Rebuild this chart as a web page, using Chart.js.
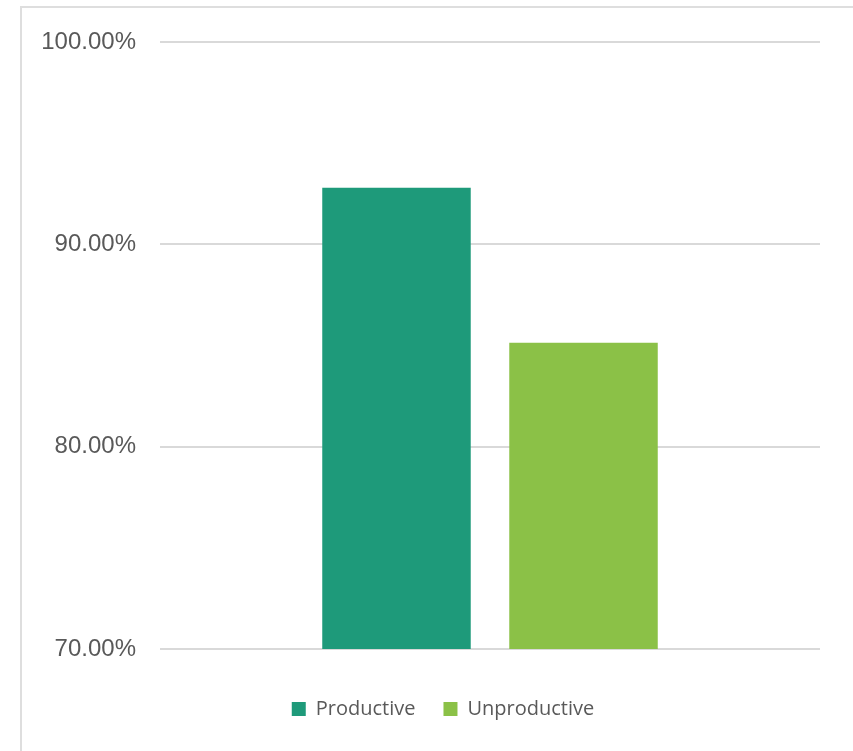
<!DOCTYPE html>
<html>
<head>
<meta charset="utf-8">
<script src="https://cdn.jsdelivr.net/npm/chart.js@4.4.1/dist/chart.umd.min.js"></script>
<style>
  html, body { margin: 0; padding: 0; background: #ffffff; }
  #wrap { position: relative; width: 853px; height: 751px; overflow: hidden; }
  #frame { position: absolute; left: 20px; top: 6px; width: 900px; height: 900px; border: 2px solid #dedede; box-sizing: border-box; }
  #c { position: absolute; left: 0; top: 0; }
</style>
</head>
<body>
<div id="wrap">
  <div id="frame"></div>
  <canvas id="c" width="853" height="751"></canvas>
</div>
<script>
const categories = [''];
const seriesNames = ['Productive', 'Unproductive'];
const productiveValues = [92.8];
const unproductiveValues = [85.14];
const seriesColors = ['#1e9a7a', '#8bc147'];
const yTicks = [70, 80, 90, 100];

const ctx = document.getElementById('c').getContext('2d');
new Chart(ctx, {
  type: 'bar',
  data: {
    labels: categories,
    datasets: [
      { label: seriesNames[0], data: productiveValues, backgroundColor: seriesColors[0], borderWidth: 0 },
      { label: seriesNames[1], data: unproductiveValues, backgroundColor: seriesColors[1], borderWidth: 0 }
    ]
  },
  options: {
    responsive: false,
    animation: false,
    devicePixelRatio: 1,
    categoryPercentage: 0.5667,
    barPercentage: 0.794,
    layout: { padding: { left: 66, right: 33, top: 42, bottom: 22 } },
    plugins: {
      tooltip: { enabled: false },
      legend: {
        display: true,
        position: 'bottom',
        labels: {
          boxWidth: 14,
          boxHeight: 14,
          padding: 28,
          color: '#595959',
          font: { family: '"Open Sans", "Noto Sans", sans-serif', size: 20 }
        }
      }
    },
    scales: {
      x: {
        display: true,
        grid: { display: false, drawTicks: false },
        border: { display: false },
        ticks: { display: false },
        afterFit: (s) => { s.height = 22; }
      },
      y: {
        min: yTicks[0],
        max: yTicks[yTicks.length - 1],
        afterFit: (s) => { s.width = 94; s._computeLabelArea = () => undefined; },
        afterBuildTicks: (s) => { s.ticks = yTicks.map(v => ({ value: v })); },
        grid: { color: '#d9d9d9', lineWidth: 2, drawTicks: false },
        border: { display: false },
        ticks: {
          padding: 24,
          color: '#595959',
          font: { family: '"Liberation Sans", Arial, sans-serif', size: 24 },
          callback: (v) => v.toFixed(2) + '%'
        }
      }
    }
  }
});
</script>
</body>
</html>
